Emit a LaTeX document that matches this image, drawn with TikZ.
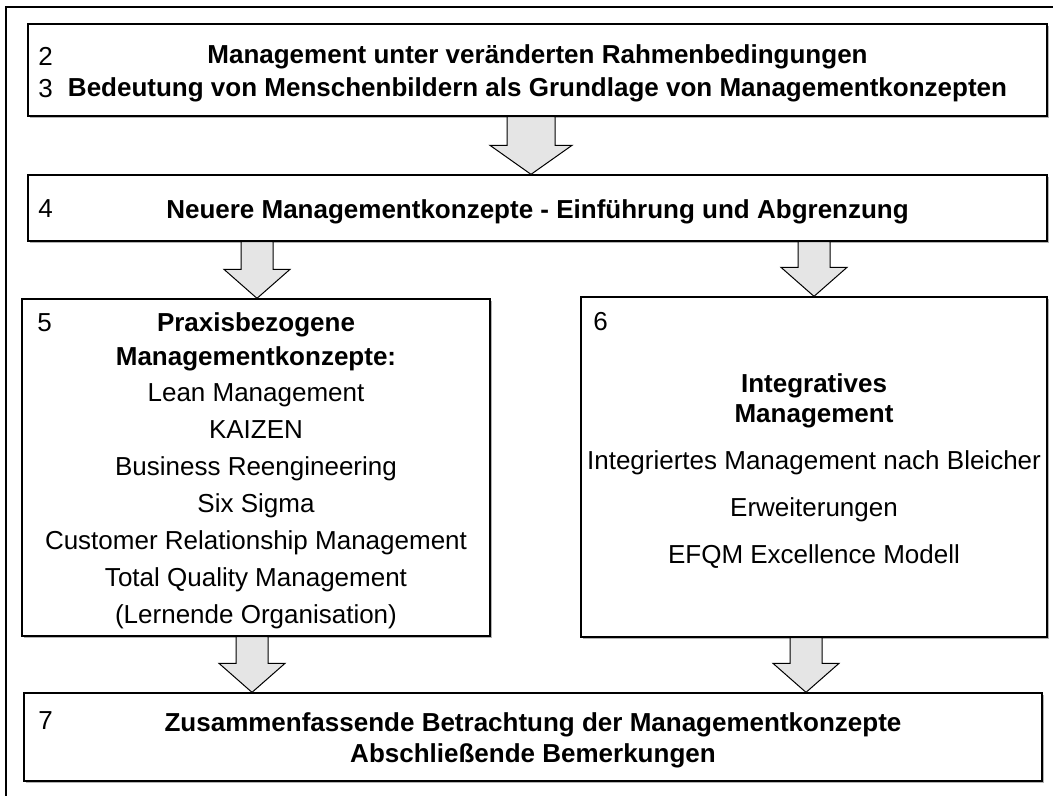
\documentclass[tikz,border=0pt]{standalone}
\usepackage{fontspec}
\setmainfont{Liberation Sans}
\usetikzlibrary{calc,shadows}

% Blockpfeil: #1 oben, #2 unten, #3 x-Position, #4 halbe Schaftbreite
\newcommand{\blockpfeil}[4]{%
  \draw[pfeil] let \p1 = (#3,0), \p2 = (#1.south), \p3 = (#2.north) in
    (\x1-#4,\y2) -- (\x1-#4,\y3+14.5pt) -- (\x1-#4-8.5pt,\y3+14.5pt) -- (\x1,\y3)
    -- (\x1+#4+8.5pt,\y3+14.5pt) -- (\x1+#4,\y3+14.5pt) -- (\x1+#4,\y2) -- cycle;
}
\newcommand{\hoch}{\rule{0pt}{13pt}}  % Text etwas tiefer setzen

\begin{document}
\begin{tikzpicture}[x=0.5pt, y=-0.5pt]
  \useasboundingbox (0,0) rectangle (1053,796);
  \draw [line width=1pt] (6,796) -- (6,7) -- (1053,7);  % Rahmen, rechts und unten abgeschnitten.
  \tikzstyle{kasten}=[rectangle, draw, line width=0.65pt, fill=white, inner sep=0pt, align=center,
    drop shadow={shadow xshift=0.9pt, shadow yshift=-0.9pt, opacity=0.6}]
  \tikzstyle{fett}=[font={\fontsize{13}{16.5}\selectfont\bfseries}]
  \tikzstyle{nummer}=[anchor=west, inner sep=0pt, font={\fontsize{13}{15}\selectfont}]
  \tikzstyle{pfeil}=[draw=black, line width=0.5pt, fill=black!10]

  \node[kasten, fett, minimum width=509.5pt, minimum height=46pt] (k23) at (537.5, 70)
    {\hoch Management unter veränderten Rahmenbedingungen\\Bedeutung von Menschenbildern als Grundlage von Managementkonzepten};
  \node[kasten, fett, minimum width=509.5pt, minimum height=33pt] (k4) at (537.5, 208)
    {\hoch Neuere Managementkonzepte - Einführung und Abgrenzung};
  \node[kasten, font={\fontsize{13}{18.5}\selectfont}, minimum width=234pt, minimum height=168.5pt] (k5) at (256, 467.5)
    {\hoch\textbf{Praxisbezogene}\\[-1.5pt]\textbf{Managementkonzepte:}\\[-0.5pt]Lean Management\\KAIZEN\\Business Reengineering\\Six Sigma\\Customer Relationship Management\\Total Quality Management\\(Lernende Organisation)};
  \node[kasten, font={\fontsize{13}{15}\selectfont}, minimum width=233pt, minimum height=170pt] (k6) at (814, 467)
    {\hoch\textbf{Integratives}\\\textbf{Management}\\[8.5pt]Integriertes Management nach Bleicher\\[8.5pt]Erweiterungen\\[8.5pt]EFQM Excellence Modell};
  \node[kasten, font={\fontsize{13}{15.5}\selectfont\bfseries}, minimum width=509pt, minimum height=44pt] (k7) at (533, 737)
    {\hoch Zusammenfassende Betrachtung der Managementkonzepte\\Abschließende Bemerkungen};

  \node[nummer] (n2) at (38, 56)  {2};
  \node[nummer] (n3) at (38, 89)  {3};
  \node[nummer] (n4) at (38, 209) {4};
  \node[nummer] (n5) at (37, 323) {5};
  \node[nummer] (n6) at (593, 322) {6};
  \node[nummer] (n7) at (38, 721) {7};

  \blockpfeil{k23}{k4}{531}{12pt}
  \blockpfeil{k4}{k5}{257}{8pt}
  \blockpfeil{k4}{k6}{814}{8pt}
  \blockpfeil{k5}{k7}{252}{8pt}
  \blockpfeil{k6}{k7}{806}{8pt}
\end{tikzpicture}
\end{document}
